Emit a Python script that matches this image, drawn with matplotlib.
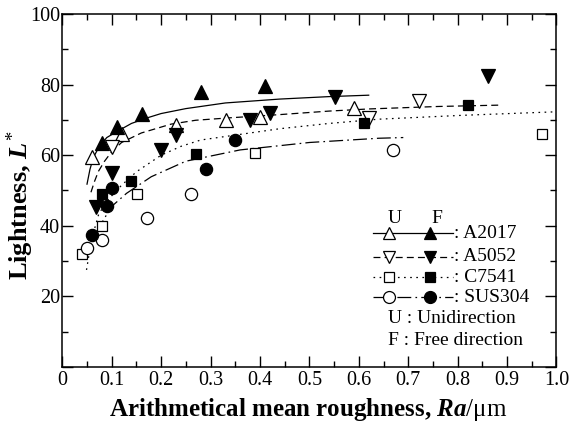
import matplotlib
matplotlib.use("Agg")
import matplotlib.pyplot as plt
from matplotlib.ticker import MultipleLocator, FixedLocator

plt.rcParams["font.family"] = ["Liberation Serif", "DejaVu Serif"]
plt.rcParams["mathtext.fontset"] = "custom"
plt.rcParams["mathtext.it"] = "Liberation Serif:bold:italic"
plt.rcParams["mathtext.rm"] = "Liberation Serif"
plt.rcParams["lines.scale_dashes"] = False

# measured points: U = unidirection (open), F = free direction (filled)
a2017_u_x = [0.061, 0.120, 0.230, 0.331, 0.400, 0.590]
a2017_u_y = [59.4, 66.0, 68.6, 70.0, 70.7, 73.3]
a2017_f_x = [0.080, 0.110, 0.161, 0.280, 0.410]
a2017_f_y = [63.5, 68.1, 71.7, 78.0, 79.6]

a5052_u_x = [0.100, 0.621, 0.721]
a5052_u_y = [62.4, 70.4, 75.4]
a5052_f_x = [0.068, 0.100, 0.199, 0.230, 0.380, 0.420, 0.551, 0.861]
a5052_f_y = [45.4, 55.0, 61.5, 65.7, 70.0, 72.0, 76.6, 82.4]

c7541_u_x = [0.039, 0.080, 0.151, 0.390, 0.970]
c7541_u_y = [32.0, 39.9, 48.9, 60.5, 66.0]
c7541_f_x = [0.080, 0.140, 0.271, 0.611, 0.821]
c7541_f_y = [48.9, 52.7, 60.3, 69.2, 74.1]

sus304_u_x = [0.050, 0.081, 0.171, 0.260, 0.670]
sus304_u_y = [33.6, 36.1, 42.1, 48.9, 61.5]
sus304_f_x = [0.060, 0.090, 0.100, 0.290, 0.350]
sus304_f_y = [37.4, 45.7, 50.8, 56.1, 64.3]

# fitted trend curves
a2017_fit_x = [0.050, 0.056, 0.063, 0.075, 0.090, 0.113, 0.140, 0.170, 0.200,
               0.250, 0.330, 0.440, 0.540, 0.620]
a2017_fit_y = [51.8, 56.0, 59.4, 62.5, 65.0, 66.9, 69.0, 70.5, 71.8,
               73.2, 74.8, 75.9, 76.6, 77.0]
a5052_fit_x = [0.058, 0.065, 0.073, 0.085, 0.100, 0.120, 0.160, 0.220, 0.270,
               0.340, 0.440, 0.540, 0.620, 0.760, 0.890]
a5052_fit_y = [49.5, 52.5, 55.4, 58.2, 61.0, 63.6, 66.3, 68.8, 69.9,
               70.6, 71.5, 72.5, 73.1, 73.8, 74.2]
c7541_fit_x = [0.049, 0.056, 0.065, 0.073, 0.085, 0.100, 0.120, 0.150, 0.200,
               0.240, 0.280, 0.340, 0.440, 0.540, 0.640, 0.810, 1.000]
c7541_fit_y = [27.5, 33.5, 39.0, 43.0, 46.0, 48.5, 51.5, 55.3, 60.0,
               62.5, 64.3, 65.5, 67.5, 69.0, 70.2, 71.3, 72.3]
sus304_fit_x = [0.070, 0.083, 0.100, 0.130, 0.180, 0.250, 0.360, 0.500, 0.640, 0.690]
sus304_fit_y = [38.0, 41.6, 45.5, 49.2, 53.9, 58.3, 61.5, 63.6, 64.8, 65.0]

materials = ["A2017", "A5052", "C7541", "SUS304"]
x_ticklabels = ["0", "0.1", "0.2", "0.3", "0.4", "0.5", "0.6", "0.7", "0.8", "0.9", "1.0"]
y_ticklabels = ["", "20", "40", "60", "80", "100"]

styles = {
    "A2017": dict(marker="^", ms=9.5, lms=8.0, ls="-"),
    "A5052": dict(marker="v", ms=9.5, lms=8.0, ls=(0, (5, 3))),
    "C7541": dict(marker="s", ms=7.3, lms=6.6, ls=(0, (1.2, 3.2))),
    "SUS304": dict(marker="o", ms=8.8, lms=8.6, ls=(0, (10, 3, 1.2, 3))),
}
series = {
    "A2017": (a2017_u_x, a2017_u_y, a2017_f_x, a2017_f_y, a2017_fit_x, a2017_fit_y),
    "A5052": (a5052_u_x, a5052_u_y, a5052_f_x, a5052_f_y, a5052_fit_x, a5052_fit_y),
    "C7541": (c7541_u_x, c7541_u_y, c7541_f_x, c7541_f_y, c7541_fit_x, c7541_fit_y),
    "SUS304": (sus304_u_x, sus304_u_y, sus304_f_x, sus304_f_y, sus304_fit_x, sus304_fit_y),
}

fig = plt.figure(figsize=(5.71, 4.23), dpi=100)
ax = fig.add_axes([0.1091, 0.1324, 0.8655, 0.8345])

for name in materials:
    ux, uy, fx, fy, cx, cy = series[name]
    st = styles[name]
    ax.plot(cx, cy, color="black", lw=0.9, ls=st["ls"], zorder=2)
    ax.plot(ux, uy, ls="none", marker=st["marker"], ms=st["ms"], mfc="white",
            mec="black", mew=0.9, zorder=3)
    ax.plot(fx, fy, ls="none", marker=st["marker"], ms=st["ms"], mfc="black",
            mec="black", mew=0.9, zorder=3)

ax.set_xlim(0, 1.0)
ax.set_ylim(0, 100)
ax.xaxis.set_major_locator(FixedLocator([i / 10 for i in range(11)]))
ax.xaxis.set_minor_locator(MultipleLocator(0.05))
ax.set_xticklabels(x_ticklabels)
ax.yaxis.set_major_locator(FixedLocator([0, 20, 40, 60, 80, 100]))
ax.yaxis.set_minor_locator(MultipleLocator(10))
ax.set_yticklabels(y_ticklabels)
ax.tick_params(which="both", direction="in", top=True, right=True,
               labelsize=14.5, width=1.0)
ax.tick_params(which="major", length=8)
ax.tick_params(which="minor", length=4.5)
ax.tick_params(axis="x", pad=3)
ax.tick_params(axis="y", pad=1.5)
for sp in ax.spines.values():
    sp.set_linewidth(1.1)

ax.set_xlabel("Arithmetical mean roughness, $Ra\\mathrm{/μm}$",
              fontsize=18, fontweight="bold")
ax.set_ylabel("Lightness, $L^\\mathrm{*}$", fontsize=19, fontweight="bold")
ax.xaxis.set_label_coords(0.497, -0.083)
ax.yaxis.set_label_coords(-0.053, 0.459)

# hand-built key in the lower right
tr = ax.transAxes
ax.text(0.672, 0.421, "U", transform=tr, fontsize=14, ha="center", va="center")
ax.text(0.758, 0.421, "F", transform=tr, fontsize=14, ha="center", va="center")
row_y = [0.379, 0.312, 0.254, 0.197]
for name, ry in zip(materials, row_y):
    st = styles[name]
    ax.plot([0.628, 0.791], [ry, ry], transform=tr, color="black", lw=0.9,
            ls=st["ls"], clip_on=False, zorder=4)
    ax.plot([0.662], [ry], transform=tr, ls="none", marker=st["marker"],
            ms=st["lms"], mfc="white", mec="black", mew=0.9, clip_on=False, zorder=5)
    ax.plot([0.744], [ry], transform=tr, ls="none", marker=st["marker"],
            ms=st["lms"], mfc="black", mec="black", mew=0.9, clip_on=False, zorder=5)
    ax.text(0.793, ry, ": " + name, transform=tr, fontsize=14, ha="left", va="center")
ax.text(0.789, 0.136, "U : Unidirection", transform=tr, fontsize=14,
        ha="center", va="center")
ax.text(0.796, 0.076, "F : Free direction", transform=tr, fontsize=14,
        ha="center", va="center")

fig.savefig("out.png", dpi=100)
